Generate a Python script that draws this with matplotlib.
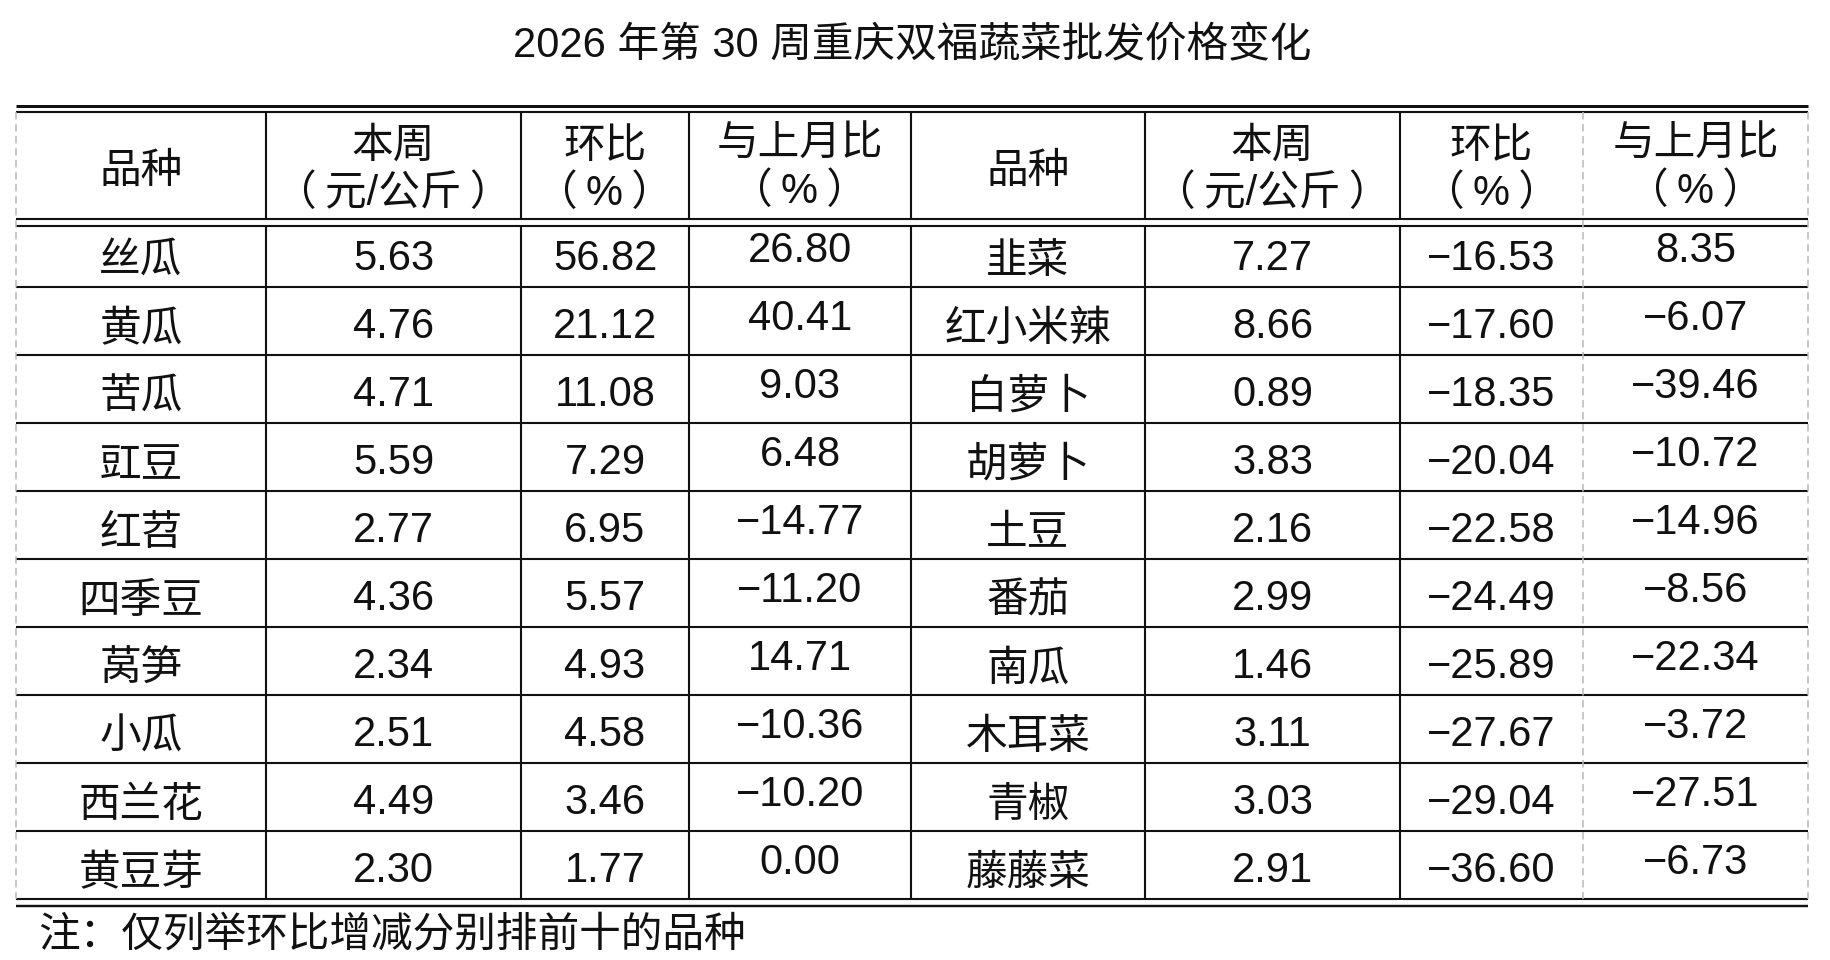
import matplotlib
matplotlib.use("Agg")
import matplotlib.pyplot as plt

plt.rcParams['font.family'] = ['Liberation Sans', 'Noto Sans CJK SC', 'DejaVu Sans']

title = "2026 年第 30 周重庆双福蔬菜批发价格变化"
note = "注：仅列举环比增减分别排前十的品种"
header_top = ["品种", "本周", "环比", "与上月比"]
header_bot = ["", "（\u2009元/公斤\u2009）", "（\u2009%\u2009）", "（\u2009%\u2009）"]

left_names = ["丝瓜", "黄瓜", "苦瓜", "豇豆", "红苕", "四季豆", "莴笋", "小瓜", "西兰花", "黄豆芽"]
left_price = [5.63, 4.76, 4.71, 5.59, 2.77, 4.36, 2.34, 2.51, 4.49, 2.30]
left_wow = [56.82, 21.12, 11.08, 7.29, 6.95, 5.57, 4.93, 4.58, 3.46, 1.77]
left_mom = [26.80, 40.41, 9.03, 6.48, -14.77, -11.20, 14.71, -10.36, -10.20, 0.00]

right_names = ["韭菜", "红小米辣", "白萝卜", "胡萝卜", "土豆", "番茄", "南瓜", "木耳菜", "青椒", "藤藤菜"]
right_price = [7.27, 8.66, 0.89, 3.83, 2.16, 2.99, 1.46, 3.11, 3.03, 2.91]
right_wow = [-16.53, -17.60, -18.35, -20.04, -22.58, -24.49, -25.89, -27.67, -29.04, -36.60]
right_mom = [8.35, -6.07, -39.46, -10.72, -14.96, -8.56, -22.34, -3.72, -27.51, -6.73]

W, H = 1831, 960
fig = plt.figure(figsize=(W / 100, H / 100), dpi=100)
ax = fig.add_axes([0, 0, 1, 1])
ax.set_xlim(0, W)
ax.set_ylim(H, 0)
ax.axis('off')

FS = 30
px = 0.72  # points per pixel at dpi 100

# layout
col_x = [16, 266, 521, 689, 911, 1145, 1400, 1583, 1808]
dashed_cols = {0, 7, 8}
top_outer, top_inner = 106, 112
head_outer, head_inner = 219, 226
row_h = 68
n_rows = len(left_names)
row_lines = [head_outer + row_h * i for i in range(n_rows + 1)]
bot_outer = row_lines[-1]
bot_inner = bot_outer + 7
lw = 2.1 * px
black = '#111111'

# horizontal lines
ax.plot([col_x[0], col_x[-1]], [top_outer, top_outer], color=black, lw=3 * px, solid_capstyle='butt')
ax.plot([col_x[0], col_x[-1]], [top_inner, top_inner], color=black, lw=lw, solid_capstyle='butt')
ax.plot([col_x[0], col_x[-1]], [head_inner, head_inner], color=black, lw=lw, solid_capstyle='butt')
for y in row_lines:
    ax.plot([col_x[0], col_x[-1]], [y, y], color=black, lw=lw, solid_capstyle='butt')
ax.plot([col_x[0], col_x[-1]], [bot_inner, bot_inner], color=black, lw=2.4 * px, solid_capstyle='butt')

# vertical lines
for i, x in enumerate(col_x):
    if i in dashed_cols:
        ax.plot([x, x], [top_inner, bot_outer], color='#b8b8b8', lw=1.5 * px,
                linestyle=(0, (5, 3)), solid_capstyle='butt')
    else:
        ax.plot([x, x], [top_inner, head_outer], color=black, lw=lw, solid_capstyle='butt')
        ax.plot([x, x], [head_inner, bot_outer], color=black, lw=lw, solid_capstyle='butt')

centers = [(col_x[i] + col_x[i + 1]) / 2 for i in range(8)]

# title and note
ax.text(912, 57, title, ha='center', va='baseline', fontsize=FS, color=black)
ax.text(38, 946, note, ha='left', va='baseline', fontsize=FS, color=black)

# header
for half in range(2):
    for j in range(4):
        cx = centers[half * 4 + j]
        shift = -2 if j == 3 else 0
        if header_bot[j]:
            ax.text(cx, 158 + shift, header_top[j], ha='center', va='baseline', fontsize=FS, color=black)
            ax.text(cx, 205 + shift, header_bot[j], ha='center', va='baseline', fontsize=FS, color=black)
        else:
            ax.text(cx, 183, header_top[j], ha='center', va='baseline', fontsize=FS, color=black)


def fmt(v):
    return f"{v:.2f}".replace("-", "−")


halves = [(left_names, left_price, left_wow, left_mom),
          (right_names, right_price, right_wow, right_mom)]
for h, (names, price, wow, mom) in enumerate(halves):
    for i in range(n_rows):
        top = row_lines[i]
        ax.text(centers[h * 4 + 0], top + 54, names[i], ha='center', va='baseline', fontsize=FS, color=black)
        ax.text(centers[h * 4 + 1], top + 51, fmt(price[i]), ha='center', va='baseline', fontsize=FS, color=black)
        ax.text(centers[h * 4 + 2], top + 51, fmt(wow[i]), ha='center', va='baseline', fontsize=FS, color=black)
        ax.text(centers[h * 4 + 3], top + 43, fmt(mom[i]), ha='center', va='baseline', fontsize=FS, color=black)

fig.savefig("out.png", dpi=100, facecolor='white')
